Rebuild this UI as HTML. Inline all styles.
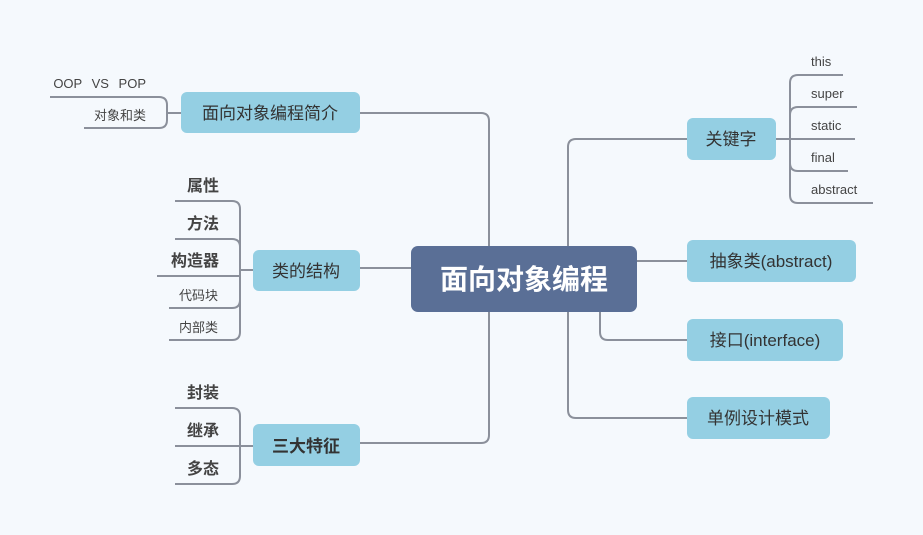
<!DOCTYPE html>
<html><head><meta charset="utf-8"><style>
html,body{margin:0;padding:0;background:#f5f9fd;}
svg{display:block;font-family:"Liberation Sans","Noto Sans CJK SC",sans-serif;}
</style></head><body>
<svg width="923" height="535" viewBox="0 0 923 535" xmlns="http://www.w3.org/2000/svg">
<rect width="923" height="535" fill="#f5f9fd"/>
<g fill="none" stroke="#8b909b" stroke-width="2">
<path d="M360 113 H481 Q489 113 489 121 V435 Q489 443 481 443 H360"/>
<path d="M360 268 H411"/>
<path d="M50 97 H159 Q167 97 167 105 V120 Q167 128 159 128 H84"/>
<path d="M167 113 H181"/>
<path d="M175 201 H232 Q240 201 240 209 V332 Q240 340 232 340 H169"/>
<path d="M175 239 H232 Q240 239 240 247"/>
<path d="M157 276 H240"/>
<path d="M169 308 H232 Q240 308 240 300"/>
<path d="M240 270 H253"/>
<path d="M175 408 H232 Q240 408 240 416 V476 Q240 484 232 484 H175"/>
<path d="M175 446 H253"/>
<path d="M687 139 H576 Q568 139 568 147 V410 Q568 418 576 418 H687"/>
<path d="M637 261 H687"/>
<path d="M600 312 V332 Q600 340 608 340 H687"/>
<path d="M843 75 H798 Q790 75 790 83 V195 Q790 203 798 203 H873"/>
<path d="M857 107 H798 Q790 107 790 115"/>
<path d="M776 139 H855"/>
<path d="M848 171 H798 Q790 171 790 163"/>
</g>
<rect x="411" y="246" width="226" height="66" rx="7" fill="#5a6f96"/>
<text x="524" y="289" font-size="28" font-weight="bold" fill="#fff" text-anchor="middle">面向对象编程</text>
<g fill="#94cfe3">
<rect x="181" y="92" width="179" height="41" rx="6"/>
<rect x="253" y="250" width="107" height="41" rx="6"/>
<rect x="253" y="424" width="107" height="42" rx="6"/>
<rect x="687" y="118" width="89" height="42" rx="6"/>
<rect x="687" y="240" width="169" height="42" rx="6"/>
<rect x="687" y="319" width="156" height="42" rx="6"/>
<rect x="687" y="397" width="143" height="42" rx="6"/>
</g>
<g font-size="17" fill="#333" text-anchor="middle">
<text x="270" y="119">面向对象编程简介</text>
<text x="306" y="277">类的结构</text>
<text x="306" y="452" font-weight="bold">三大特征</text>
<text x="731" y="145">关键字</text>
<text x="771" y="267">抽象类(abstract)</text>
<text x="765" y="346">接口(interface)</text>
<text x="758" y="424">单例设计模式</text>
</g>
<g fill="#444" text-anchor="end">
<text x="146" y="88" font-size="13" word-spacing="6">OOP VS POP</text>
<text x="146" y="120" font-size="13">对象和类</text>
<text x="219" y="191" font-size="16" font-weight="bold">属性</text>
<text x="219" y="229" font-size="16" font-weight="bold">方法</text>
<text x="219" y="266" font-size="16" font-weight="bold">构造器</text>
<text x="218" y="300" font-size="13">代码块</text>
<text x="218" y="332" font-size="13">内部类</text>
<text x="219" y="398" font-size="16" font-weight="bold">封装</text>
<text x="219" y="436" font-size="16" font-weight="bold">继承</text>
<text x="219" y="474" font-size="16" font-weight="bold">多态</text>
</g>
<g fill="#444" font-size="13">
<text x="811" y="66">this</text>
<text x="811" y="98">super</text>
<text x="811" y="130">static</text>
<text x="811" y="162">final</text>
<text x="811" y="194">abstract</text>
</g>
</svg>
</body></html>
